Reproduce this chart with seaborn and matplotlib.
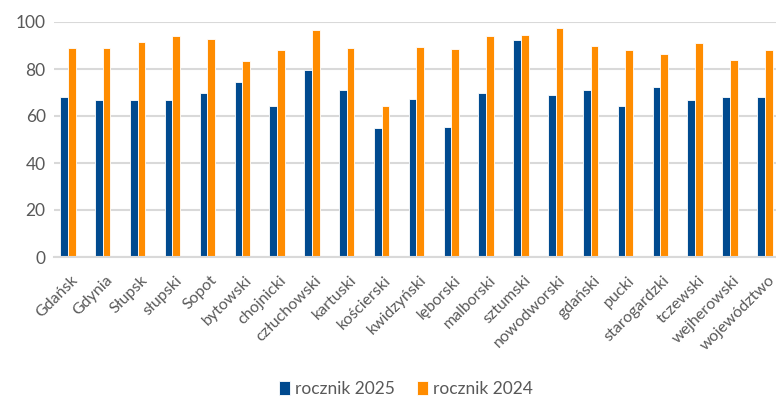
import matplotlib
matplotlib.use("Agg")
import matplotlib.pyplot as plt
import matplotlib.transforms as mtransforms
import seaborn as sns
import pandas as pd

categories = ["Gdańsk", "Gdynia", "Słupsk", "słupski", "Sopot", "bytowski",
              "chojnicki", "człuchowski", "kartuski", "kościerski", "kwidzyński",
              "lęborski", "malborski", "sztumski", "nowodworski", "gdański",
              "pucki", "starogardzki", "tczewski", "wejherowski", "województwo"]
rocznik_2025 = [68.2, 66.9, 66.9, 66.9, 70.0, 74.4, 64.2, 79.4, 71.0, 54.8, 67.3,
                55.3, 69.6, 92.3, 68.8, 71.0, 64.2, 72.3, 66.9, 68.2, 68.2]
rocznik_2024 = [88.8, 88.8, 91.5, 94.2, 92.8, 83.4, 87.9, 96.4, 88.8, 64.2, 89.2,
                88.4, 94.2, 94.6, 97.3, 89.6, 87.9, 86.2, 91.1, 83.8, 87.9]
series_names = ["rocznik 2025", "rocznik 2024"]
y_ticks = [0, 20, 40, 60, 80, 100]

df = pd.DataFrame({
    "kategoria": categories * 2,
    "wartosc": rocznik_2025 + rocznik_2024,
    "seria": [series_names[0]] * len(categories) + [series_names[1]] * len(categories),
})

sns.set_theme(style="white")
plt.rcParams["font.family"] = ["Lato", "DejaVu Sans"]

text_color = "#595959"
grid_color = "#d9d9d9"
palette = {series_names[0]: "#004a8f", series_names[1]: "#ff8c00"}

fig = plt.figure(figsize=(7.76, 3.99), dpi=100)
ax = fig.add_axes([54 / 776, 1 - 257 / 399, (776 - 54) / 776, (257 - 22) / 399])

sns.barplot(data=df, x="kategoria", y="wartosc", hue="seria", palette=palette,
            saturation=1, width=0.44, edgecolor="white", linewidth=0.6,
            ax=ax, legend=True)

ax.set_ylim(0, 100)
ax.set_xlim(-0.40, 20.32)
ax.set_yticks(y_ticks)
ax.set_yticklabels([str(v) for v in y_ticks], fontsize=12.5, color=text_color)
ax.yaxis.grid(True, color=grid_color, linewidth=1.5)
ax.set_axisbelow(True)
for side in ["top", "right", "left"]:
    ax.spines[side].set_visible(False)
ax.spines["bottom"].set_color(grid_color)
ax.spines["bottom"].set_linewidth(1.5)
ax.tick_params(axis="both", length=0, pad=6)
ax.tick_params(axis="x", pad=3)
ax.set_xticks(range(len(categories)))
ax.set_xticklabels(categories, rotation=45, ha="right", rotation_mode="anchor",
                   fontsize=11.5, color=text_color)
# nudge the rotated category labels down and slightly to the right
shift = mtransforms.ScaledTranslation(0.025, -0.12, fig.dpi_scale_trans)
for lbl in ax.get_xticklabels():
    lbl.set_transform(lbl.get_transform() + shift)
ax.set_xlabel("")
ax.set_ylabel("")

handles, labels = ax.get_legend_handles_labels()
ax.legend(handles, labels, loc="center", bbox_to_anchor=(406 / 776, 1 - 389 / 399),
          bbox_transform=fig.transFigure, ncol=2, frameon=False, fontsize=12.5,
          handlelength=0.6, handleheight=0.8, handletextpad=0.3, columnspacing=1.3,
          labelcolor=text_color)

fig.savefig("out.png", dpi=100)
